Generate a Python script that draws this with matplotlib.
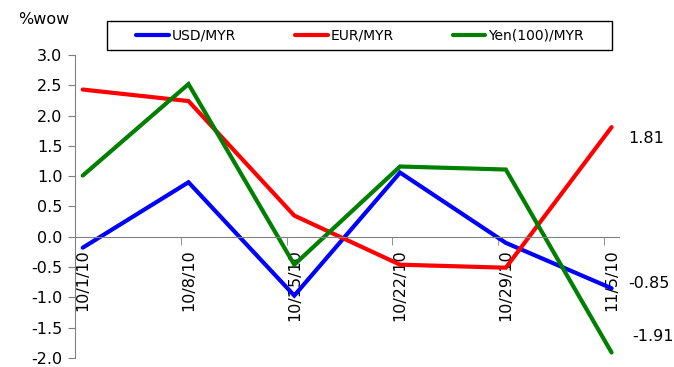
import matplotlib
matplotlib.use("Agg")
import matplotlib.pyplot as plt
from matplotlib.patches import Rectangle

# Weekly % change of ringgit crosses
dates = ["10/1/10", "10/8/10", "10/15/10", "10/22/10", "10/29/10", "11/5/10"]
usd_myr = [-0.18, 0.90, -0.97, 1.06, -0.10, -0.85]
eur_myr = [2.43, 2.24, 0.35, -0.46, -0.51, 1.81]
yen_myr = [1.01, 2.52, -0.46, 1.16, 1.11, -1.91]

series_names = ["USD/MYR", "EUR/MYR", "Yen(100)/MYR"]
series_colors = ["#0000ff", "#ff0000", "#008000"]
yticks = [3.0, 2.5, 2.0, 1.5, 1.0, 0.5, 0.0, -0.5, -1.0, -1.5, -2.0]

plt.rcParams["font.family"] = ["DejaVu Sans"]

W, H = 674, 367
fig = plt.figure(figsize=(W / 100, H / 100), dpi=100)
ax = fig.add_axes([75 / W, 1 - 358 / H, (619 - 75) / W, (358 - 55) / H])

x = list(range(len(dates)))
handles = []
for vals, name, col in zip([usd_myr, eur_myr, yen_myr], series_names, series_colors):
    h, = ax.plot(x, vals, color=col, lw=3, solid_capstyle="round", solid_joinstyle="miter", label=name)
    handles.append(h)

off = 0.073
ax.set_xlim(-off, 5.07)
ax.set_ylim(-2.0, 3.0)
ax.set_yticks(yticks)
ax.set_yticklabels([f"{v:.1f}" for v in yticks], fontsize=11.5)

gray = "#808080"
for s in ["top", "right"]:
    ax.spines[s].set_visible(False)
ax.spines["left"].set_color(gray)
ax.spines["bottom"].set_color(gray)
ax.spines["bottom"].set_position(("data", 0))
ax.tick_params(axis="y", direction="out", length=5, color=gray, pad=4)

# category labels centred on the points, tick marks on the category boundaries
ax.set_xticks(x)
ax.set_xticklabels(dates, rotation=90, fontsize=11.5, va="top", ha="center")
ax.tick_params(axis="x", which="major", length=0, pad=9)
ax.set_xticks([i - off for i in x], minor=True)
ax.tick_params(axis="x", which="minor", direction="out", length=6, color=gray)

# end-of-series values
ends = [eur_myr[-1], usd_myr[-1], yen_myr[-1]]
offsets = [(17, -11), (17, 5), (21, 16)]
for v, (dx, dy) in zip(ends, offsets):
    ax.annotate(f"{v:.2f}", xy=(x[-1], v), xytext=(dx, dy), textcoords="offset pixels",
                fontsize=11.5, ha="left", va="center", annotation_clip=False)

fig.text(18 / W, 1 - 20 / H, "%wow", fontsize=11.5, ha="left", va="center")

# legend box
fig.patches.append(Rectangle((107 / W, 1 - 50 / H), 505 / W, 29 / H, transform=fig.transFigure,
                             facecolor="white", edgecolor="black", lw=1.0, zorder=5))
leg = fig.legend(handles=handles, labels=series_names, ncol=3, loc="center",
                 bbox_to_anchor=(360 / W, 1 - 35.5 / H),
                 fontsize=10, frameon=False, handlelength=2.35, handletextpad=0.2,
                 columnspacing=4.25, borderaxespad=0, borderpad=0)
leg.set_zorder(6)

fig.savefig("out.png", dpi=100)
